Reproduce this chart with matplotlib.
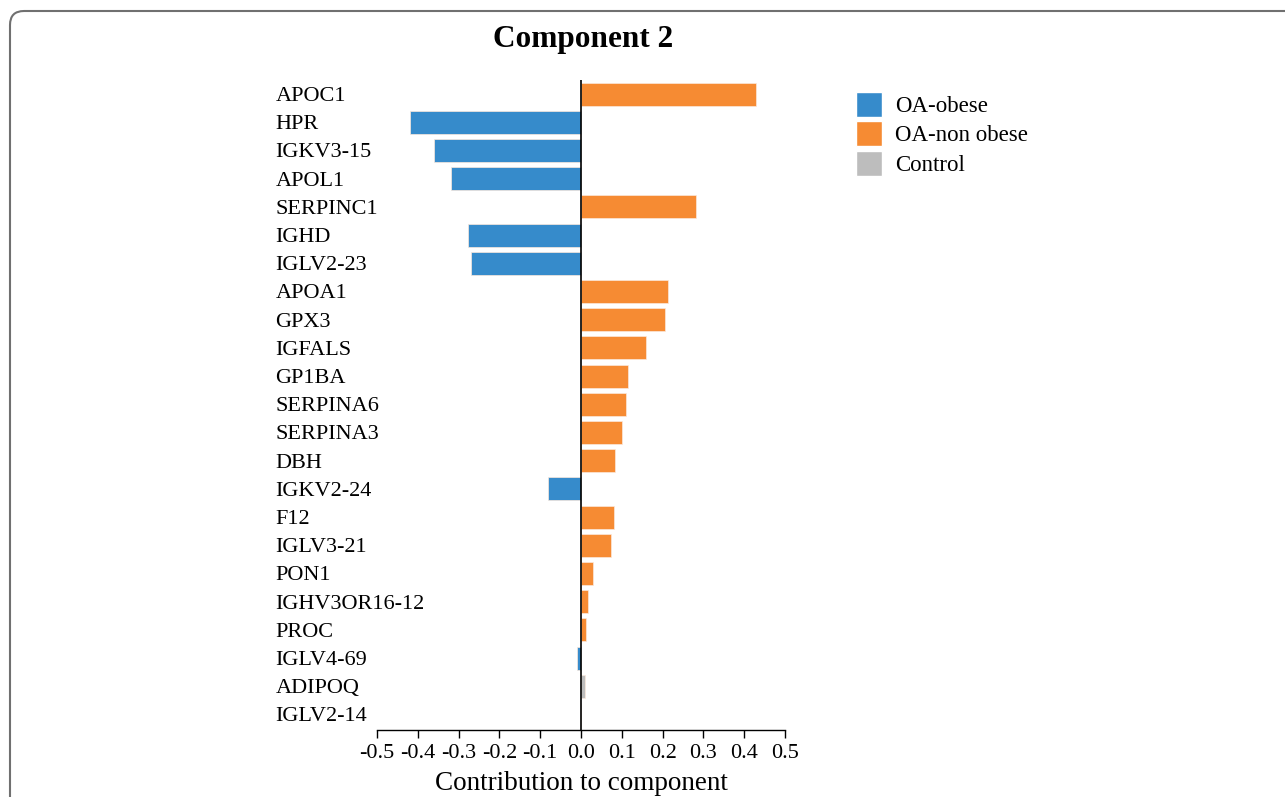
import matplotlib
matplotlib.use("Agg")
import matplotlib.pyplot as plt
from matplotlib.patches import Patch, FancyBboxPatch
from matplotlib.transforms import IdentityTransform

genes = ["APOC1", "HPR", "IGKV3-15", "APOL1", "SERPINC1", "IGHD", "IGLV2-23",
         "APOA1", "GPX3", "IGFALS", "GP1BA", "SERPINA6", "SERPINA3", "DBH",
         "IGKV2-24", "F12", "IGLV3-21", "PON1", "IGHV3OR16-12", "PROC",
         "IGLV4-69", "ADIPOQ", "IGLV2-14"]
contrib = [0.429, -0.419, -0.360, -0.319, 0.282, -0.277, -0.270,
           0.213, 0.206, 0.159, 0.115, 0.110, 0.100, 0.083,
           -0.081, 0.081, 0.074, 0.029, 0.017, 0.012,
           -0.010, 0.009, 0.0]
group = ["OA-non obese", "OA-obese", "OA-obese", "OA-obese", "OA-non obese",
         "OA-obese", "OA-obese", "OA-non obese", "OA-non obese", "OA-non obese",
         "OA-non obese", "OA-non obese", "OA-non obese", "OA-non obese",
         "OA-obese", "OA-non obese", "OA-non obese", "OA-non obese",
         "OA-non obese", "OA-non obese", "OA-obese", "Control", "Control"]
legend_labels = ["OA-obese", "OA-non obese", "Control"]
colors = {"OA-obese": "#368bcb", "OA-non obese": "#f68b33", "Control": "#bdbdbd"}
xticks = [-0.5, -0.4, -0.3, -0.2, -0.1, 0.0, 0.1, 0.2, 0.3, 0.4, 0.5]

plt.rcParams["font.family"] = ["Liberation Serif", "DejaVu Serif"]

W, H = 1285, 797
fig = plt.figure(figsize=(W / 100, H / 100), dpi=100)
ax = fig.add_axes([377 / W, 1 - 730 / H, 408 / W, 650 / H])

ypos = list(range(len(genes)))
ax.barh(ypos, contrib, height=0.82, color=[colors[g] for g in group],
        edgecolor="#fbe9dc", linewidth=0.5)
ax.axvline(0, color="black", linewidth=1.2, zorder=3)

ax.set_xlim(-0.5, 0.5)
ax.set_ylim(len(genes) - 0.45, -0.5)
ax.set_xticks(xticks)
ax.set_xticklabels([f"{v:.1f}" for v in xticks], fontsize=16)
ax.tick_params(axis="x", direction="out", length=6, width=1, pad=4)
ax.set_yticks(ypos)
ax.set_yticklabels(genes, fontsize=16, ha="left")
ax.tick_params(axis="y", length=0, pad=73)
for s in ["top", "right", "left"]:
    ax.spines[s].set_visible(False)
ax.spines["bottom"].set_linewidth(1)
ax.set_xlabel("Contribution to component", fontsize=19.5, labelpad=6)

fig.text(583 / W, 1 - 39 / H, "Component 2", fontsize=22.5, fontweight="bold",
         ha="center", va="center")

handles = [Patch(facecolor=colors[l], edgecolor="white", label=l) for l in legend_labels]
fig.legend(handles=handles, loc="upper left", bbox_to_anchor=(856 / W, 1 - 92 / H),
           frameon=False, fontsize=16.5, handlelength=1.15, handleheight=1.3,
           handletextpad=0.55, labelspacing=0.18, borderaxespad=0, borderpad=0)

frame = FancyBboxPatch((10, -40), 1320, H - 11 + 40,
                       boxstyle="round,pad=0,rounding_size=14",
                       transform=IdentityTransform(), facecolor="none",
                       edgecolor="#707070", linewidth=1.5)
fig.patches.append(frame)

fig.savefig("out.png", dpi=100)
